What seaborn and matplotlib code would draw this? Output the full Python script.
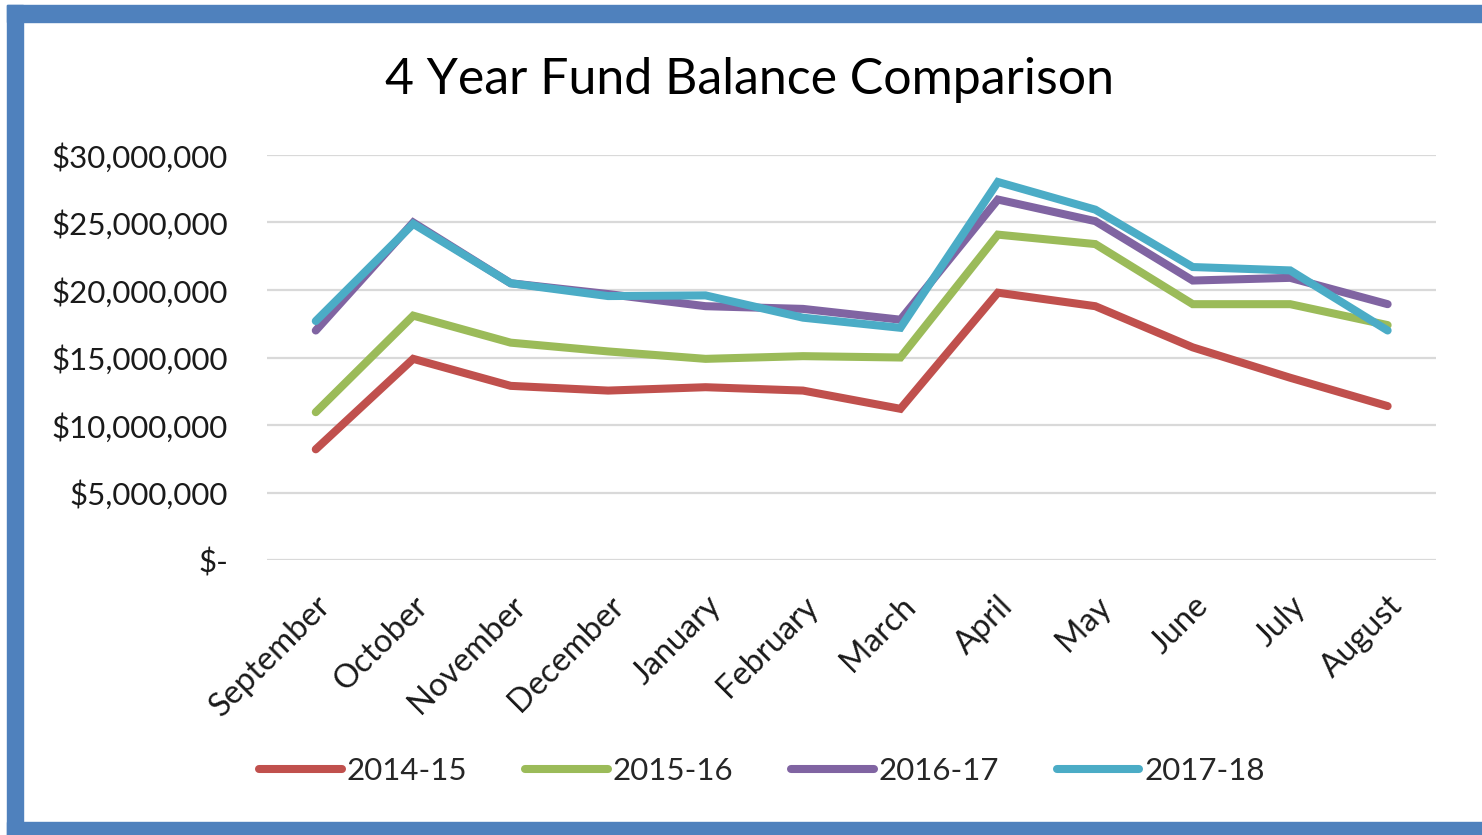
import matplotlib
matplotlib.use("Agg")
import matplotlib.pyplot as plt
from matplotlib.patches import Rectangle
from matplotlib.ticker import FuncFormatter
import pandas as pd
import seaborn as sns

months = [
    "September", "October", "November", "December", "January", "February",
    "March", "April", "May", "June", "July", "August",
]
fy_2014_15 = [8.2, 14.9, 12.9, 12.55, 12.8, 12.55, 11.2, 19.8, 18.8, 15.75, 13.5, 11.4]
fy_2015_16 = [10.95, 18.1, 16.1, 15.45, 14.9, 15.1, 15.0, 24.1, 23.4, 18.95, 18.95, 17.4]
fy_2016_17 = [17.0, 25.0, 20.5, 19.7, 18.8, 18.6, 17.8, 26.7, 25.1, 20.7, 20.9, 18.95]
fy_2017_18 = [17.7, 24.9, 20.5, 19.55, 19.6, 17.95, 17.2, 28.0, 25.95, 21.7, 21.45, 17.0]
seasons = ["2014-15", "2015-16", "2016-17", "2017-18"]
colors = ["#C0504D", "#9BBB59", "#8064A2", "#4BACC6"]

# long form for seaborn, values in dollars
rows = []
for season, vals in zip(seasons, [fy_2014_15, fy_2015_16, fy_2016_17, fy_2017_18]):
    for m, v in zip(months, vals):
        rows.append({"month": m, "balance": v * 1e6, "season": season})
df = pd.DataFrame(rows)

sns.set_theme(style="white")
plt.rcParams["font.family"] = ["Lato", "DejaVu Sans"]

fig = plt.figure(figsize=(14.82, 8.35), dpi=100)
ax = fig.add_axes([0.1802, 0.3293, 0.789, 0.4851])

sns.lineplot(
    data=df, x="month", y="balance", hue="season",
    palette=colors, linewidth=5.8, sort=False, ax=ax, legend=True,
)
for line in ax.get_lines():
    line.set_solid_capstyle("round")
    line.set_solid_joinstyle("miter")

ax.set_xlim(-0.5, len(months) - 0.5)
ax.set_ylim(0, 30e6)
ax.set_yticks([i * 5e6 for i in range(7)])


def money(v, pos):
    if v == 0:
        return "$-"
    return f"${v:,.0f}"


ax.yaxis.set_major_formatter(FuncFormatter(money))
ax.grid(axis="y", color="#D9D9D9", linewidth=1.6)
ax.set_axisbelow(True)
for s in ax.spines.values():
    s.set_visible(False)
ax.set_xlabel("")
ax.set_ylabel("")
ax.tick_params(axis="y", labelsize=22.5, pad=28, length=0, colors="#1a1a1a")
ax.tick_params(axis="x", labelsize=23.5, pad=22, length=0, colors="#1a1a1a")
plt.setp(ax.get_xticklabels(), rotation=45, ha="right", rotation_mode="anchor")

handles, labels = ax.get_legend_handles_labels()
ax.get_legend().remove()
leg = fig.legend(
    handles, labels, loc="center", bbox_to_anchor=(0.514, 0.0766), ncol=4,
    frameon=False, fontsize=22.5, handlelength=2.65, handletextpad=0.15,
    columnspacing=1.85,
)
for h in leg.get_lines():
    h.set_linewidth(5.8)
    h.set_solid_capstyle("round")

fig.text(0.506, 0.904, "4 Year Fund Balance Comparison", ha="center", va="center",
         fontsize=36, color="black")

# blue frame
blue = "#4F81BD"
W, H = 1482, 835
fig.patches.append(Rectangle((7 / W, 0), 16 / W, 1 - 5 / H, transform=fig.transFigure,
                             color=blue, zorder=0))
fig.patches.append(Rectangle((7 / W, 1 - 22 / H), 1, 17 / H, transform=fig.transFigure,
                             color=blue, zorder=0))
fig.patches.append(Rectangle((7 / W, 0), 1, 13 / H, transform=fig.transFigure,
                             color=blue, zorder=0))

fig.savefig("out.png", dpi=100, facecolor="white")
